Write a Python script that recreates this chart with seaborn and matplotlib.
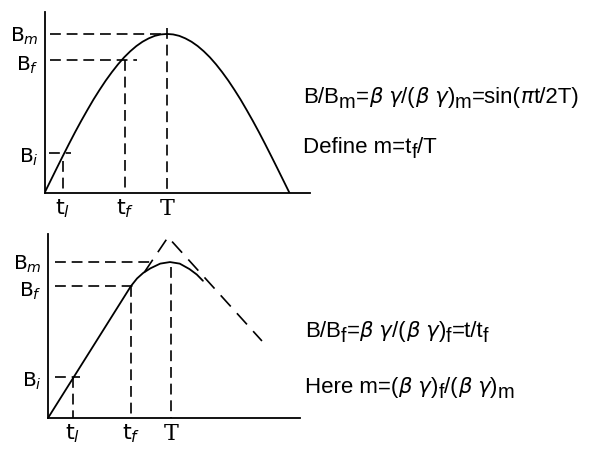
import matplotlib
matplotlib.use("Agg")
import matplotlib.pyplot as plt
import matplotlib.transforms as mtransforms
import seaborn as sns

# ---- upper panel: sinusoidal ramp, B/Bm = sin(pi t / 2T) ----
sine_t = [0.0, 0.05, 0.1, 0.15, 0.2, 0.25, 0.3, 0.35, 0.4, 0.45, 0.5,
          0.55, 0.6, 0.65, 0.7, 0.75, 0.8, 0.85, 0.9, 0.95, 1.0,
          1.05, 1.1, 1.15, 1.2, 1.25, 1.3, 1.35, 1.4, 1.45, 1.5,
          1.55, 1.6, 1.65, 1.7, 1.75, 1.8, 1.85, 1.9, 1.95, 2.0]
sine_B = [0.0, 0.078, 0.156, 0.233, 0.309, 0.383, 0.454, 0.522, 0.588, 0.649, 0.707,
          0.760, 0.809, 0.853, 0.891, 0.924, 0.951, 0.972, 0.988, 0.997, 1.0,
          0.997, 0.988, 0.972, 0.951, 0.924, 0.891, 0.853, 0.809, 0.760, 0.707,
          0.649, 0.588, 0.522, 0.454, 0.383, 0.309, 0.233, 0.156, 0.078, 0.0]
up_T, up_Bm = 1.0, 1.0
up_tf, up_Bf = 0.657, 0.836
up_ti, up_Bi = 0.151, 0.25

# ---- lower panel: linear ramp rounded off near the top ----
ramp_t = [0.0, 0.68, 0.73, 0.78, 0.84, 0.92, 1.0, 1.08, 1.16, 1.22, 1.27]
ramp_B = [0.0, 0.846, 0.895, 0.93, 0.96, 0.99, 1.0, 0.99, 0.955, 0.92, 0.88]
tri_t = [0.79, 0.984, 1.754]
tri_B = [0.935, 1.16, 0.494]
lo_T, lo_Bm = 1.01, 1.0
lo_tf, lo_Bf = 0.68, 0.846
lo_ti, lo_Bi = 0.205, 0.263

sns.set_style("white")
plt.rcParams["font.family"] = ["DejaVu Sans"]

W, H = 593, 452
fig = plt.figure(figsize=(W / 100, H / 100), dpi=100)
renderer = fig.canvas.get_renderer()


def make_axes(x0, y_axis, x1, y_top, xmax, ymax):
    ax = fig.add_axes([x0 / W, (H - y_axis) / H, (x1 - x0) / W, (y_axis - y_top) / H])
    ax.set_xlim(0, xmax)
    ax.set_ylim(0, ymax)
    sns.despine(ax=ax)
    for s in ("left", "bottom"):
        ax.spines[s].set_linewidth(1.3)
        ax.spines[s].set_color("black")
    ax.set_xticks([])
    ax.set_yticks([])
    ax.patch.set_alpha(0)
    return ax


dash = dict(color="black", lw=1.2, dashes=(6.5, 3.5))
solid = dict(color="black", lw=1.3)
lab = dict(fontsize=14.5, color="black")
tlab = dict(fontsize=16, color="black")


def left_label(ax, y, txt, dy=0):
    tr = mtransforms.blended_transform_factory(ax.transAxes, ax.transData)
    ax.annotate(txt, xy=(0, y), xycoords=tr, xytext=(-6, dy),
                textcoords="offset pixels", ha="right", va="center",
                annotation_clip=False, **lab)


def bottom_label(ax, x, txt, family=None):
    tr = mtransforms.blended_transform_factory(ax.transData, ax.transAxes)
    kw = dict(tlab)
    if family:
        kw["family"] = family
    ax.annotate(txt, xy=(x, 0), xycoords=tr, xytext=(0, -15),
                textcoords="offset pixels", ha="center", va="center",
                annotation_clip=False, **kw)


# upper panel
ax1 = make_axes(44.5, 194, 310, 13, 2.167, 1.138)
sns.lineplot(x=sine_t, y=sine_B, ax=ax1, sort=False, estimator=None, **solid)
ax1.plot([0.045, up_T], [up_Bm, up_Bm], **dash)
ax1.plot([0.045, 0.755], [up_Bf, up_Bf], **dash)
ax1.plot([0.04, 0.216], [up_Bi, up_Bi], **dash)
ax1.plot([up_T, up_T], [1.04, 0], **dash)
ax1.plot([up_tf, up_tf], [up_Bf, 0], **dash)
ax1.plot([up_ti, up_ti], [0.2, 0], **dash)
left_label(ax1, up_Bm, "B$_m$", dy=-1)
left_label(ax1, up_Bf, "B$_f$", dy=-4)
left_label(ax1, up_Bi, "B$_i$", dy=-3)
bottom_label(ax1, up_ti, "t$_l$")
bottom_label(ax1, up_tf, "t$_f$")
bottom_label(ax1, up_T, "T", family="DejaVu Serif")

# lower panel
ax2 = make_axes(48, 419, 300, 235, 2.066, 1.18)
sns.lineplot(x=ramp_t, y=ramp_B, ax=ax2, sort=False, estimator=None, **solid)
ax2.plot(tri_t, tri_B, color="black", lw=1.2, dashes=(9, 5.5))
ax2.plot([0.057, 0.85], [lo_Bm, lo_Bm], **dash)
ax2.plot([0.057, 0.74], [lo_Bf, lo_Bf], **dash)
ax2.plot([0.057, 0.26], [lo_Bi, lo_Bi], **dash)
ax2.plot([lo_T, lo_T], [0.97, 0], **dash)
ax2.plot([lo_tf, lo_tf], [lo_Bf, 0], **dash)
ax2.plot([lo_ti, lo_ti], [lo_Bi, 0], **dash)
left_label(ax2, lo_Bm, "B$_m$", dy=-1)
left_label(ax2, lo_Bf, "B$_f$", dy=-4)
left_label(ax2, lo_Bi, "B$_i$", dy=-3)
bottom_label(ax2, lo_ti, "t$_l$")
bottom_label(ax2, lo_tf, "t$_f$")
bottom_label(ax2, lo_T, "T", family="DejaVu Serif")

# relations written beside the panels: (text, kind) pieces,
# kind "n" normal, "s" lowered subscript, "g" Greek letters
FS = 16
FAM = ["Liberation Sans", "DejaVu Sans"]


def rich_text(x_px, y_px, pieces):
    x = x_px
    for s, kind in pieces:
        kw = dict(fontsize=FS, family=FAM, color="black", ha="left", va="baseline")
        drop = 0
        if kind == "s":
            kw["fontsize"] = FS * 0.9
            drop = 5
        elif kind == "g":
            kw["family"] = ["DejaVu Sans"]
            kw["style"] = "oblique"
            kw["fontsize"] = FS * 0.95
        t = fig.text(x / W, 1 - (y_px + drop) / H, s, **kw)
        x = t.get_window_extent(renderer).x1


BG = ("β γ", "g")
rich_text(303, 103, [("B/B", "n"), ("m", "s"), ("=", "n"), BG, ("/(", "n"), BG,
                     (")", "n"), ("m", "s"), ("=sin(", "n"), ("π", "g"), ("t/2T)", "n")])
rich_text(303, 153, [("Define m=t", "n"), ("f", "s"), ("/T", "n")])
rich_text(305, 337, [("B/B", "n"), ("f", "s"), ("=", "n"), BG, ("/(", "n"), BG,
                     (")", "n"), ("f", "s"), ("=t/t", "n"), ("f", "s")])
rich_text(305, 393, [("Here m=(", "n"), BG, (")", "n"), ("f", "s"), ("/(", "n"), BG,
                     (")", "n"), ("m", "s")])

fig.savefig("out.png", dpi=100, facecolor="white")
